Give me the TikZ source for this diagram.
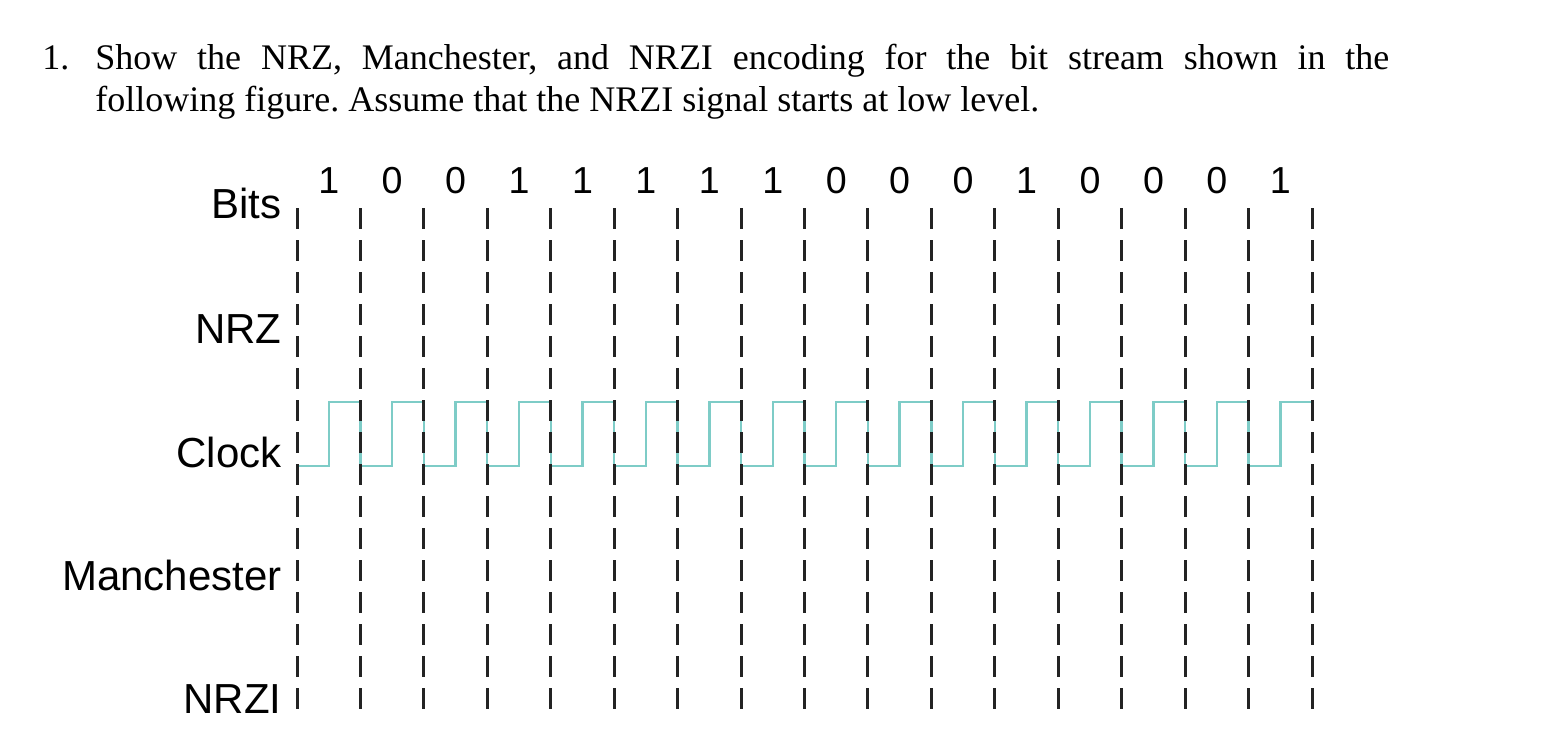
\documentclass[tikz,border=0pt]{standalone}
\usepackage{fontspec}
\setmainfont{Liberation Serif}
\newfontfamily\labelfont{Liberation Sans}
\usetikzlibrary{positioning}
\definecolor{clockteal}{RGB}{126,204,199}
\definecolor{guidegray}{RGB}{35,35,35}
\frenchspacing

\begin{document}
\begin{tikzpicture}[
    x=0.5pt, y=-0.5pt,
    question/.style={inner sep=0pt, font=\fontsize{18}{21}\selectfont},
    rowlabel/.style={inner sep=0pt, anchor=base east, font=\labelfont\fontsize{21}{24}\selectfont},
    bitval/.style={inner sep=0pt, anchor=base, font=\labelfont\fontsize{18.8}{20}\selectfont},
    guide/.style={draw=guidegray, line width=1.5pt, dash pattern=on 10.5pt off 5.5pt},
    clk/.style={draw=clockteal, line width=1.2pt}
]
\useasboundingbox (0,0) rectangle (1556,751);

% question text
\node[question, anchor=base west] (num) at (42,69) {1.};
\node[question, anchor=base west, text width=647pt, align=justify] (task) at (95,69)
    {Show the NRZ, Manchester, and NRZI encoding for the bit stream shown in the\linebreak
     following figure. Assume that the NRZI signal starts at low level.};

% row labels
\node[rowlabel] (bits) at (282,218) {Bits};
\node[rowlabel] (nrz) at (282,343) {NRZ};
\node[rowlabel] (clock) at (282,467) {Clock};
\node[rowlabel] (manch) at (282,590) {Manchester};
\node[rowlabel] (nrzi) at (282,713) {NRZI};

% bit values
\foreach \b [count=\i from 0] in {1,0,0,1,1,1,1,1,0,0,0,1,0,0,0,1}
    \node[bitval] (bit\i) at (297+63.44*\i+31.72,193) {\b};

% clock signal
\draw[clk] (297,466) -- (328.7,466) -- (328.7,402) -- (360.4,402)
    \foreach \k in {1,...,15} { -- ++(0,64) -- ++(31.72,0) -- ++(0,-64) -- ++(31.72,0) };

% bit boundaries
\foreach \k in {0,...,16} {
    \coordinate (top\k) at (297+63.44*\k,208);
    \coordinate (bot\k) at (297+63.44*\k,712);
    \draw[guide] (top\k) -- (bot\k);
}
\end{tikzpicture}
\end{document}
